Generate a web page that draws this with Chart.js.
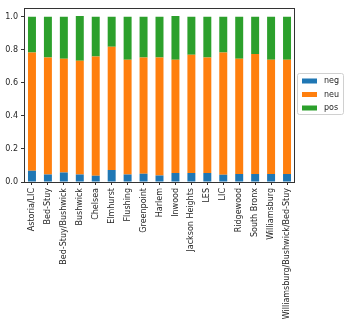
<!DOCTYPE html>
<html>
<head>
<meta charset="utf-8">
<script src="https://cdn.jsdelivr.net/npm/chart.js@4/dist/chart.umd.min.js"></script>
<style>
  body { margin: 0; background: #fff; }
</style>
</head>
<body>
<canvas id="chart" width="348" height="327"></canvas>
<script>
const categories = ['Astoria/LIC', 'Bed-Stuy', 'Bed-Stuy/Bushwick', 'Bushwick', 'Chelsea', 'Elmhurst',
  'Flushing', 'Greenpoint', 'Harlem', 'Inwood', 'Jackson Heights', 'LES', 'LIC', 'Ridgewood',
  'South Bronx', 'Williamsburg', 'Williamsburg/Bushwick/Bed-Stuy'];
const neg = [0.068, 0.046, 0.058, 0.046, 0.038, 0.072, 0.046, 0.050, 0.040, 0.054, 0.054, 0.054, 0.044, 0.048, 0.048, 0.048, 0.048];
const neu = [0.716, 0.708, 0.688, 0.688, 0.722, 0.746, 0.694, 0.704, 0.714, 0.686, 0.716, 0.700, 0.740, 0.698, 0.726, 0.692, 0.692];
const pos = [0.216, 0.246, 0.254, 0.270, 0.240, 0.182, 0.260, 0.246, 0.246, 0.264, 0.230, 0.246, 0.216, 0.254, 0.226, 0.260, 0.260];
const yTicks = [0, 0.2, 0.4, 0.6, 0.8, 1.0];

Chart.defaults.font.family = 'DejaVu Sans';
Chart.defaults.font.size = 8;
Chart.defaults.color = '#262626';

// frame (all four spines) + legend box at the right, centred on the plot
const framePlugin = {
  id: 'frame',
  afterDraw(chart) {
    const { ctx, chartArea: a } = chart;
    ctx.save();
    ctx.strokeStyle = '#333';
    ctx.lineWidth = 1;
    ctx.strokeRect(Math.round(a.left) + 0.5, Math.round(a.top) + 0.5,
      Math.round(a.right - a.left) - 1, Math.round(a.bottom - a.top));

    const bx = 297, bw = 46, bh = 41;
    const by = Math.round((a.top + a.bottom) / 2 - bh / 2) - 1;
    ctx.fillStyle = '#fff';
    ctx.strokeStyle = '#d0d0d0';
    ctx.beginPath();
    ctx.roundRect(bx + 0.5, by + 0.5, bw, bh, 2);
    ctx.fill();
    ctx.stroke();
    ctx.font = '8px "DejaVu Sans"';
    ctx.textBaseline = 'middle';
    chart.data.datasets.forEach((ds, i) => {
      const cy = by + 8 + i * 13.5;
      ctx.fillStyle = ds.backgroundColor;
      ctx.fillRect(bx + 5, cy - 2.5, 15, 5);
      ctx.fillStyle = '#262626';
      ctx.fillText(ds.label, bx + 27, cy);
    });
    ctx.restore();
  }
};

new Chart(document.getElementById('chart'), {
  type: 'bar',
  data: {
    labels: categories,
    datasets: [
      { label: 'neg', data: neg, backgroundColor: '#1f77b4' },
      { label: 'neu', data: neu, backgroundColor: '#ff7f0e' },
      { label: 'pos', data: pos, backgroundColor: '#2ca02c' }
    ]
  },
  options: {
    responsive: false,
    animation: false,
    layout: { padding: { top: 6, right: 53, left: 0, bottom: 0 } },
    datasets: { bar: { barPercentage: 0.5, categoryPercentage: 1, borderWidth: 0 } },
    plugins: { legend: { display: false }, tooltip: { enabled: false } },
    scales: {
      x: {
        stacked: true,
        offset: true,
        afterFit: (s) => { s.height = 145; },
        border: { display: false },
        grid: { display: true, offset: false, drawOnChartArea: false, drawTicks: true, tickLength: 3, color: '#333' },
        ticks: { autoSkip: false, minRotation: 90, maxRotation: 90, padding: 3 }
      },
      y: {
        stacked: true,
        min: 0,
        max: 1.054,
        afterFit: (s) => { s.width = 24; },
        afterBuildTicks: (s) => { s.ticks = yTicks.map(v => ({ value: v })); },
        border: { display: false },
        grid: { display: true, drawOnChartArea: false, drawTicks: true, tickLength: 3, color: '#333' },
        ticks: { padding: 3, callback: (v) => Number(v).toFixed(1) }
      }
    }
  },
  plugins: [framePlugin]
});
</script>
</body>
</html>
